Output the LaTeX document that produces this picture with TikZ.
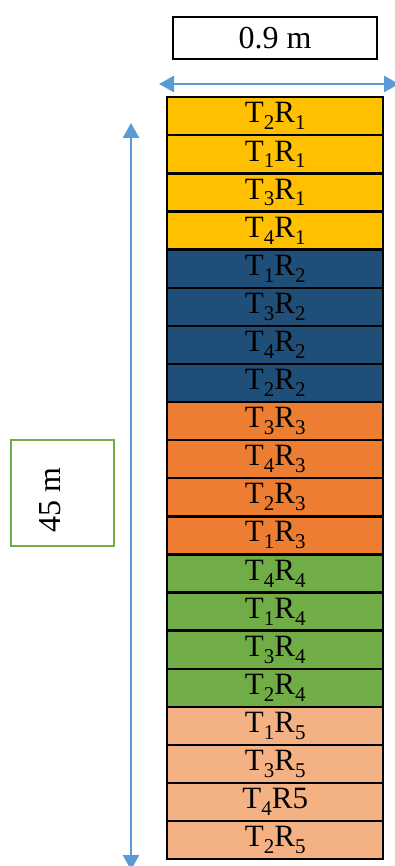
\documentclass[tikz,border=0pt]{standalone}
\usepackage{fontspec}
\setmainfont{Liberation Serif}
\usetikzlibrary{arrows.meta}
\definecolor{cgold}{HTML}{FFC000}
\definecolor{cblue}{HTML}{1F4E79}
\definecolor{corange}{HTML}{ED7D31}
\definecolor{cgreen}{HTML}{70AD47}
\definecolor{cpeach}{HTML}{F4B183}
\definecolor{carrow}{HTML}{5B9BD5}
\newcommand{\lowidx}[1]{\raisebox{-0.22em}{\fontsize{21}{21}\selectfont #1}}
\tikzset{
  cell/.style={draw=black, line width=2.4pt, minimum width=216pt, minimum height=38.1pt, inner sep=0pt, font=\fontsize{31}{31}\selectfont, anchor=north west},
  dimarrow/.style={draw=carrow, line width=2.5pt, {Triangle[length=15pt,width=16pt]}-{Triangle[length=15pt,width=16pt]}},
  labelbox/.style={draw, line width=2pt, inner sep=0pt, font=\fontsize{32}{32}\selectfont}
}
\begin{document}
\begin{tikzpicture}[x=1pt,y=-1pt]
\useasboundingbox (0,0) rectangle (395,866);
\foreach \i/\lab/\col in {
 0/{T\lowidx{2}R\lowidx{1}}/cgold, 1/{T\lowidx{1}R\lowidx{1}}/cgold, 2/{T\lowidx{3}R\lowidx{1}}/cgold, 3/{T\lowidx{4}R\lowidx{1}}/cgold,
 4/{T\lowidx{1}R\lowidx{2}}/cblue, 5/{T\lowidx{3}R\lowidx{2}}/cblue, 6/{T\lowidx{4}R\lowidx{2}}/cblue, 7/{T\lowidx{2}R\lowidx{2}}/cblue,
 8/{T\lowidx{3}R\lowidx{3}}/corange, 9/{T\lowidx{4}R\lowidx{3}}/corange, 10/{T\lowidx{2}R\lowidx{3}}/corange, 11/{T\lowidx{1}R\lowidx{3}}/corange,
 12/{T\lowidx{4}R\lowidx{4}}/cgreen, 13/{T\lowidx{1}R\lowidx{4}}/cgreen, 14/{T\lowidx{3}R\lowidx{4}}/cgreen, 15/{T\lowidx{2}R\lowidx{4}}/cgreen,
 16/{T\lowidx{1}R\lowidx{5}}/cpeach, 17/{T\lowidx{3}R\lowidx{5}}/cpeach, 18/{T\lowidx{4}R5}/cpeach, 19/{T\lowidx{2}R\lowidx{5}}/cpeach}
 { \node[cell, fill=\col] (r\i) at (166, {96+38.1*\i}) {\lab}; }
\node[labelbox, draw=black, minimum width=204pt, minimum height=42pt, anchor=north west] (w) at (172,16) {0.9 m};
\node[labelbox, draw=cgreen, minimum width=103pt, minimum height=106pt, anchor=north west] (h) at (10,439) {};
\node[rotate=90, font=\fontsize{32}{32}\selectfont] (htext) at (50,500) {45 m};
\coordinate (wl) at (159,84);
\coordinate (wr) at (399,84);
\coordinate (ht) at (131,123);
\coordinate (hb) at (131,870);
\draw[dimarrow] (wl) -- (wr);
\draw[dimarrow] (ht) -- (hb);
\end{tikzpicture}
\end{document}
